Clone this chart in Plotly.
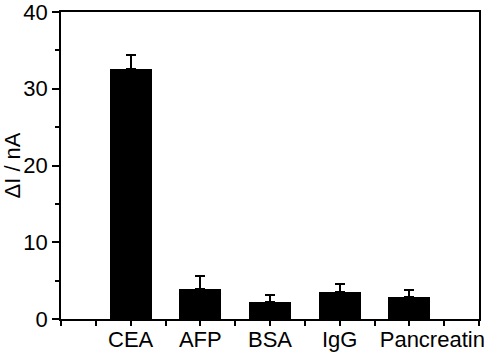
import plotly.graph_objects as go

categories = ["CEA", "AFP", "BSA", "IgG", "Pancreatin"]
values = [32.6, 3.85, 2.2, 3.55, 2.9]
errors = [1.8, 1.75, 0.87, 1.03, 0.87]
y_ticks = [0, 10, 20, 30, 40]

positions = list(range(1, len(categories) + 1))
# in the original figure the last label sits a little right of its bar
label_positions = positions[:-1] + [positions[-1] + 0.33]

fig = go.Figure(
    go.Bar(
        x=positions,
        y=values,
        width=0.6,
        marker=dict(color="black", line=dict(width=0)),
        error_y=dict(
            type="data",
            array=errors,
            arrayminus=[0] * len(errors),
            symmetric=False,
            color="black",
            thickness=2,
            width=5,
        ),
    )
)

font = dict(family="Liberation Sans, Arial, sans-serif", size=22, color="black")

fig.update_layout(
    width=484,
    height=355,
    margin=dict(l=61, r=5, t=12, b=36),
    plot_bgcolor="white",
    paper_bgcolor="white",
    showlegend=False,
    font=font,
    bargap=0,
)

fig.update_xaxes(
    range=[0, 6],
    tickmode="array",
    tickvals=label_positions,
    ticktext=categories,
    tickangle=0,
    ticks="",
    showline=True,
    linecolor="black",
    linewidth=1.5,
    mirror=True,
    showgrid=False,
    zeroline=False,
    automargin=False,
    ticklabeloverflow="allow",
    ticklabelstandoff=0,
    minor=dict(ticks="outside", tickmode="linear", tick0=0, dtick=0.5, ticklen=5, tickwidth=1.5, tickcolor="black"),
    tickfont=font,
)

fig.update_yaxes(
    range=[0, 40],
    tickmode="array",
    tickvals=y_ticks,
    ticks="outside",
    ticklen=7,
    tickwidth=1.5,
    tickcolor="black",
    showline=True,
    linecolor="black",
    linewidth=1.5,
    mirror=True,
    showgrid=False,
    zeroline=False,
    automargin=False,
    ticklabeloverflow="allow",
    minor=dict(ticks="outside", tickmode="linear", tick0=0, dtick=5, ticklen=4, tickwidth=1.5, tickcolor="black"),
    title=dict(text="ΔI / nA", font=font, standoff=18),
    tickfont=font,
)

fig.write_html(
    "out.html",
    config={"displayModeBar": False},
    post_script="document.body.style.margin='0';document.body.style.overflow='hidden';",
)
